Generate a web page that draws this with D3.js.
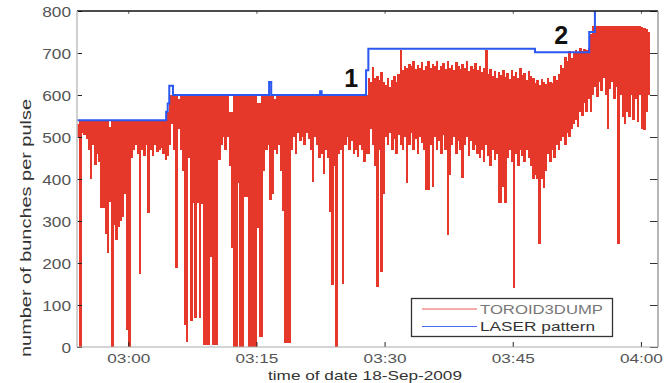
<!DOCTYPE html>
<html>
<head>
<meta charset="utf-8">
<script src="https://cdn.jsdelivr.net/npm/d3@7"></script>
<style>
  html, body { margin: 0; padding: 0; background: #fff; }
  svg { display: block; font-family: "Liberation Sans", Arial, Helvetica, sans-serif; }
</style>
</head>
<body>
<svg id="chart" width="667" height="383"></svg>
<script>
// ---- data -------------------------------------------------------------
const day = "2009-09-18";
const timeDomain = ["02:54:00", "04:02:00"];
const timeTicks = ["03:00:00", "03:15:00", "03:30:00", "03:45:00", "04:00:00"];
const yTicks = [0, 100, 200, 300, 400, 500, 600, 700, 800];

// LASER pattern: requested bunches per pulse (step changes)
const laserTimes = ["02:54:00", "03:04:26", "03:04:37", "03:04:48", "03:05:14",
                    "03:16:29", "03:16:44", "03:22:27", "03:22:38", "03:27:50",
                    "03:28:06", "03:47:36", "03:53:57", "03:54:37", "04:02:00"];
const laserValues = [540, 560, 580, 622, 600, 631, 600, 609, 600, 659,
                     710, 702, 750, 830, 830];

// TOROID3DUMP: max / min bunches per pulse in each 15 s interval from 02:54:00
const toroidStart = "02:54:00";
const toroidStepSec = 15;
const toroidMax = [
  530,540,540,540,540,540,540,540,540,540,
  540,540,540,540,540,525,540,540,540,540,
  540,540,540,540,540,540,540,540,540,540,
  540,540,540,540,540,540,540,540,540,540,
  540,540,560,600,600,600,600,590,600,600,
  600,600,600,600,600,600,600,600,600,600,
  600,600,600,600,600,600,600,600,600,600,
  600,560,560,600,600,600,600,600,600,600,
  600,600,600,600,580,580,600,600,600,600,
  600,600,590,600,600,600,600,600,600,600,
  600,600,600,600,600,600,600,600,600,600,
  600,600,600,600,600,600,600,600,600,600,
  600,600,600,600,600,600,600,600,600,600,
  600,600,600,600,600,600,640,630,667,640,
  645,635,655,630,625,640,620,635,645,630,
  650,706,660,670,665,675,668,680,662,672,
  665,678,660,670,682,664,675,668,680,660,
  670,676,662,680,665,672,660,678,668,662,
  675,665,680,658,670,662,676,660,668,655,
  665,706,650,662,645,658,640,655,648,660,
  642,652,638,660,645,655,640,665,648,652,
  636,658,645,640,628,635,625,638,630,626,
  640,632,628,645,636,650,672,665,690,680,
  705,688,700,708,702,712,705,710,706,712,
  745,765,765,765,765,765,765,765,765,765,
  765,765,765,765,765,765,765,765,765,765,
  765,765,765,765,763,760,758,750
];
const toroidMin = [
  500,0,510,505,495,470,400,480,433,460,
  440,330,330,270,225,345,0,290,254,285,
  300,310,365,40,0,450,470,480,460,175,
  470,455,480,320,470,455,480,465,470,475,
  460,445,455,480,530,470,188,520,470,420,
  52,12,450,63,342,68,342,68,340,5,
  5,5,214,5,5,5,445,480,500,470,
  500,430,235,0,0,390,0,0,357,357,
  0,0,0,0,283,23,23,420,470,480,
  350,365,470,460,480,420,325,10,10,10,
  470,500,460,510,490,500,480,510,495,470,
  393,500,480,450,460,413,470,450,322,147,
  430,0,460,470,150,480,500,470,490,460,
  470,452,480,470,440,460,460,520,480,430,
  143,470,178,365,500,480,510,470,495,460,
  505,480,470,500,390,480,510,470,495,460,
  500,485,470,373,373,480,380,500,470,490,
  460,505,470,266,410,480,500,460,490,470,
  402,480,500,455,490,470,480,460,450,470,
  440,480,455,430,470,445,460,342,342,380,
  342,450,470,440,140,460,430,470,455,440,
  470,450,430,400,410,400,245,400,378,420,
  460,440,470,450,480,470,490,500,480,510,
  500,520,530,540,525,560,550,580,560,590,
  560,600,620,595,630,610,640,600,520,615,
  630,590,620,245,600,547,530,560,547,600,
  540,590,535,600,520,516,560,600
];

const legendLabels = ["TOROID3DUMP", "LASER pattern"];
const annotations = [
  { label: "1", time: "03:26:05", value: 619 },
  { label: "2", time: "03:50:40", value: 722 }
];

// ---- layout -------------------------------------------------------------
const W = 667, H = 383;
const plot = { left: 77, right: 658, top: 11, bottom: 347 };
const red = "#e5382a", blue = "#2a58f0";

const parse = d3.timeParse("%Y-%m-%d %H:%M:%S");
const at = s => parse(day + " " + s);

const x = d3.scaleTime().domain(timeDomain.map(at)).range([plot.left, plot.right]);
const y = d3.scaleLinear().domain([0, 800]).range([plot.bottom, plot.top]);

const svg = d3.select("#chart");
svg.append("rect").attr("width", W).attr("height", H).attr("fill", "#fff");

svg.append("clipPath").attr("id", "plot-clip")
  .append("rect")
  .attr("x", plot.left).attr("y", plot.top)
  .attr("width", plot.right - plot.left).attr("height", plot.bottom - plot.top);

const gData = svg.append("g").attr("clip-path", "url(#plot-clip)");

// TOROID3DUMP as one min-max column per interval
const t0 = at(toroidStart);
const stepMs = toroidStepSec * 1000;
const bins = toroidMax.map((hi, i) => ({
  t: new Date(+t0 + i * stepMs), hi, lo: toroidMin[i]
}));
gData.append("g").attr("shape-rendering", "crispEdges")
  .selectAll("rect").data(bins).join("rect")
  .attr("x", d => x(d.t))
  .attr("width", d => x(new Date(+d.t + stepMs)) - x(d.t) + 0.4)
  .attr("y", d => y(d.hi))
  .attr("height", d => y(d.lo) - y(d.hi))
  .attr("fill", red);

// LASER pattern step line
const laser = laserTimes.map((s, i) => ({ t: at(s), v: laserValues[i] }));
gData.append("path")
  .datum(laser)
  .attr("fill", "none")
  .attr("stroke", blue)
  .attr("stroke-width", 2)
  .attr("d", d3.line().x(d => x(d.t)).y(d => y(d.v)).curve(d3.curveStepAfter));

// ---- axes ---------------------------------------------------------------
const tickDates = timeTicks.map(at);
const fmt = d3.timeFormat("%H:%M");

const gx = svg.append("g")
  .attr("transform", `translate(0,${plot.bottom})`)
  .call(d3.axisBottom(x).tickValues(tickDates).tickFormat(fmt).tickSize(-5));
gx.select(".domain").remove();
gx.selectAll(".tick line").attr("stroke", "#222");
gx.selectAll(".tick text")
  .attr("y", 16).attr("dy", null)
  .attr("font-size", 12).attr("fill", "#555")
  .attr("textLength", 43).attr("lengthAdjust", "spacingAndGlyphs");

const gxTop = svg.append("g")
  .attr("transform", `translate(0,${plot.top})`)
  .call(d3.axisTop(x).tickValues(tickDates).tickFormat("").tickSize(-3));
gxTop.select(".domain").remove();
gxTop.selectAll(".tick line").attr("stroke", "#666");

const gy = svg.append("g")
  .attr("transform", `translate(${plot.left},0)`)
  .call(d3.axisLeft(y).tickValues(yTicks).tickFormat(d3.format("d")).tickSize(-5).tickPadding(6));
gy.select(".domain").remove();
gy.selectAll(".tick line").attr("stroke", "#222");
gy.selectAll(".tick text")
  .attr("x", -6).attr("dy", "0.4em")
  .attr("font-size", 14).attr("fill", "#555")
  .attr("textLength", d => String(d).length * 9.6)
  .attr("lengthAdjust", "spacingAndGlyphs");

const gyRight = svg.append("g")
  .attr("transform", `translate(${plot.right},0)`)
  .call(d3.axisRight(y).tickValues(yTicks).tickFormat("").tickSize(-8));
gyRight.select(".domain").remove();
gyRight.selectAll(".tick line").attr("stroke", "#333");

// axes box
svg.append("line").attr("x1", plot.left).attr("x2", plot.right)
  .attr("y1", plot.top).attr("y2", plot.top)
  .attr("stroke", "#111").attr("stroke-width", 1.5);
svg.append("line").attr("x1", plot.left).attr("x2", plot.right)
  .attr("y1", plot.bottom).attr("y2", plot.bottom)
  .attr("stroke", "#aaa").attr("stroke-width", 1.2);
svg.append("line").attr("x1", plot.left).attr("x2", plot.left)
  .attr("y1", plot.top).attr("y2", plot.bottom)
  .attr("stroke", "#c4c4c4").attr("stroke-width", 1.6);
svg.append("line").attr("x1", plot.right).attr("x2", plot.right)
  .attr("y1", plot.top).attr("y2", plot.bottom)
  .attr("stroke", "#999").attr("stroke-width", 1.4);

// axis titles
svg.append("text")
  .attr("x", 268).attr("y", 380)
  .attr("font-size", 13).attr("fill", "#333")
  .attr("textLength", 194).attr("lengthAdjust", "spacingAndGlyphs")
  .text("time of date 18-Sep-2009");

svg.append("text")
  .attr("transform", "translate(31,357) rotate(-90)")
  .attr("font-size", 15).attr("fill", "#333")
  .attr("textLength", 258).attr("lengthAdjust", "spacingAndGlyphs")
  .text("number of bunches per pulse");

// step markers
svg.selectAll("text.note").data(annotations).join("text")
  .attr("class", "note")
  .attr("x", d => x(at(d.time)))
  .attr("y", d => y(d.value))
  .attr("text-anchor", "middle")
  .attr("font-size", 25).attr("font-weight", "bold").attr("fill", "#111")
  .text(d => d.label);

// ---- legend -------------------------------------------------------------
const lg = svg.append("g");
lg.append("rect")
  .attr("x", 411.5).attr("y", 298.5).attr("width", 201).attr("height", 38)
  .attr("fill", "#fff").attr("stroke", "#333").attr("stroke-width", 1.3);
const legendColors = ["#f05a50", "#4a6af2"];
const legendY = [309, 326.5];
const legendTextY = [313.5, 331];
const legendTextLen = [123, 115];
const legendTextFill = ["#777", "#333"];
legendLabels.forEach((lab, i) => {
  lg.append("line")
    .attr("x1", 422).attr("x2", 477)
    .attr("y1", legendY[i]).attr("y2", legendY[i])
    .attr("stroke", legendColors[i]).attr("stroke-width", 1.2);
  lg.append("text")
    .attr("x", 480).attr("y", legendTextY[i])
    .attr("font-size", 12).attr("fill", legendTextFill[i])
    .attr("textLength", legendTextLen[i]).attr("lengthAdjust", "spacingAndGlyphs")
    .text(lab);
});
</script>
</body>
</html>
